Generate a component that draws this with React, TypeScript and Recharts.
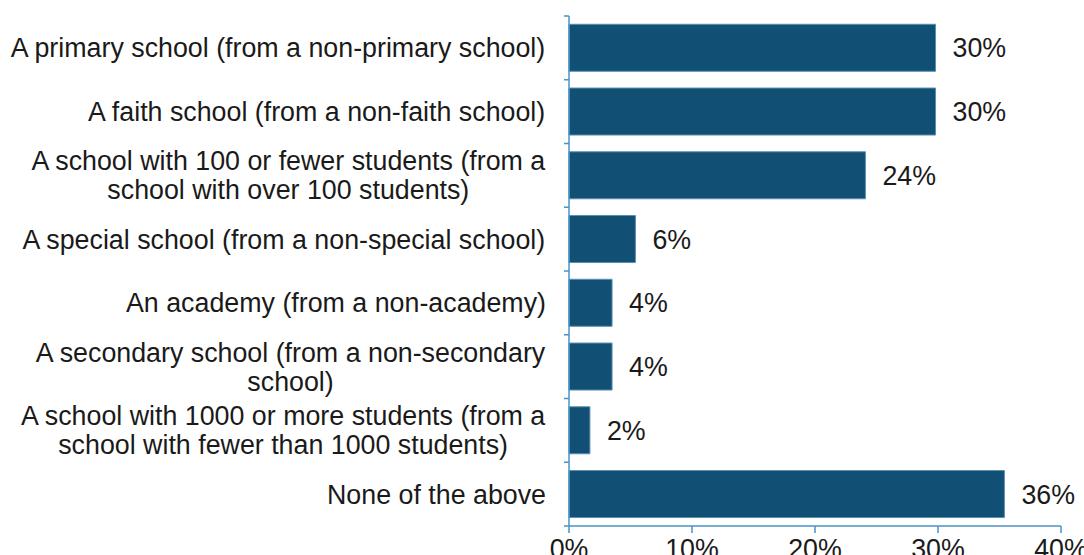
import React from "react";
import { BarChart, Bar, XAxis, YAxis, LabelList } from "recharts";

const categories = [
  "A primary school (from a non-primary school)",
  "A faith school (from a non-faith school)",
  "A school with 100 or fewer students (from a\nschool with over 100 students)",
  "A special school (from a non-special school)",
  "An academy (from a non-academy)",
  "A secondary school (from a non-secondary\nschool)",
  "A school with 1000 or more students (from a\nschool with fewer than 1000 students)",
  "None of the above",
];
const values = [29.8, 29.8, 24.1, 5.4, 3.5, 3.5, 1.7, 35.4];
const valueLabels = ["30%", "30%", "24%", "6%", "4%", "4%", "2%", "36%"];
const xTicks = [0, 10, 20, 30, 40];

const data = categories.map((c, i) => ({ name: c, value: values[i], label: valueLabels[i] }));

const FONT = '"Liberation Sans", Arial, sans-serif';
const FS = 26.8;
const LH = 29;
const AXIS = "#4a93c4";
const TEXT = "#1a1a1a";

let ctx: CanvasRenderingContext2D | null = null;
function measure(s: string) {
  if (!ctx) ctx = document.createElement("canvas").getContext("2d");
  if (!ctx) return s.length * FS * 0.5;
  ctx.font = `${FS}px ${FONT}`;
  return ctx.measureText(s).width;
}

const YTick = (props: any) => {
  const { x, y, payload, index } = props;
  const lines: string[] = String(payload.value).split("\n");
  const maxW = Math.max(...lines.map(measure));
  const cx = x - maxW / 2;
  const n = lines.length;
  const half = 510 / categories.length / 2;
  const ax = x + 23;
  return (
    <g>
      <line x1={ax - 5} x2={ax} y1={y - half} y2={y - half} stroke={AXIS} strokeWidth={1.5} />
      {index === categories.length - 1 && (
        <line x1={ax - 5} x2={ax} y1={y + half} y2={y + half} stroke={AXIS} strokeWidth={1.5} />
      )}
      <text x={cx} y={y} textAnchor="middle" fontFamily={FONT} fontSize={FS} fill={TEXT}>
        {lines.map((l, i) => (
          <tspan key={i} x={cx} y={y + (i - (n - 1) / 2) * LH} dy="0.35em">
            {l}
          </tspan>
        ))}
      </text>
    </g>
  );
};

export default function App() {
  return (
    <div style={{ position: "absolute", left: 0, top: 0, background: "#fff" }}>
      <BarChart
        width={1084}
        height={555}
        data={data}
        layout="vertical"
        margin={{ top: 16, right: 23, bottom: 0, left: 0 }}
        barCategoryGap="13%"
      >
        <XAxis
          type="number"
          domain={[0, 40]}
          ticks={xTicks}
          tickFormatter={(v: number) => `${v}%`}
          height={29}
          tickSize={7}
          tickMargin={6}
          stroke={AXIS}
          strokeWidth={1.5}
          tick={{ fill: TEXT, fontSize: FS, fontFamily: FONT }}
          interval={0}
        />
        <YAxis
          type="category"
          dataKey="name"
          width={569}
          tickLine={false}
          tickSize={0}
          tickMargin={23}
          stroke={AXIS}
          strokeWidth={1.5}
          tick={<YTick />}
          interval={0}
        />
        <Bar dataKey="value" fill="#124f74" stroke="#5a8fb0" strokeWidth={1} isAnimationActive={false}>
          <LabelList
            dataKey="label"
            position="right"
            offset={17}
            fill={TEXT}
            fontSize={FS}
            fontFamily={FONT}
          />
        </Bar>
      </BarChart>
    </div>
  );
}
